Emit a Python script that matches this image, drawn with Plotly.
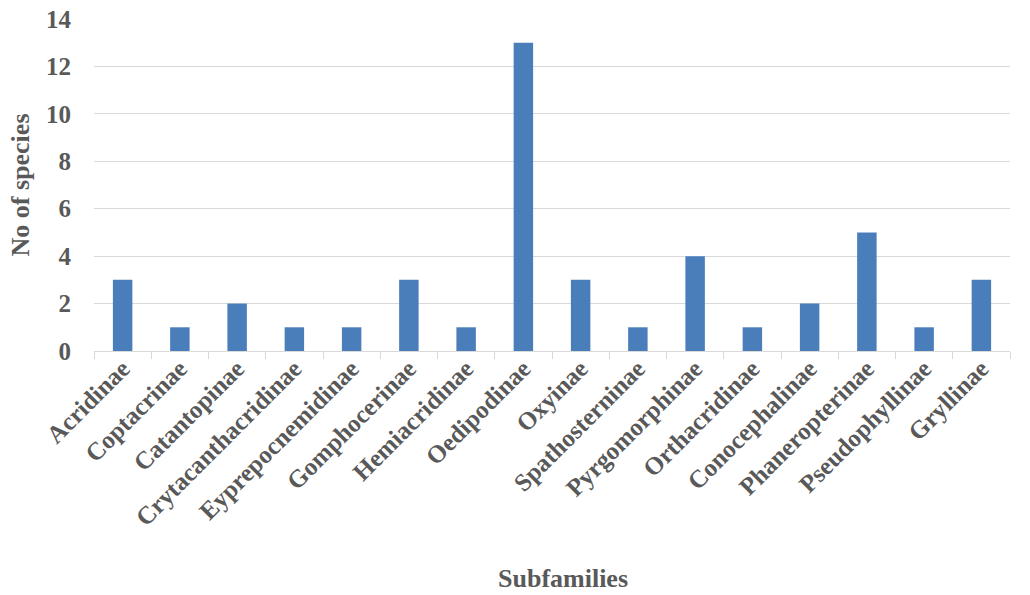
import plotly.graph_objects as go

subfamilies = [
    "Acridinae", "Coptacrinae", "Catantopinae", "Crytacanthacridinae",
    "Eyprepocnemidinae", "Gomphocerinae", "Hemiacridinae", "Oedipodinae",
    "Oxyinae", "Spathosterninae", "Pyrgomorphinae", "Orthacridinae",
    "Conocephalinae", "Phaneropterinae", "Pseudophyllinae", "Gryllinae",
]
species_counts = [3, 1, 2, 1, 1, 3, 1, 13, 3, 1, 4, 1, 2, 5, 1, 3]
y_ticks = [0, 2, 4, 6, 8, 10, 12, 14]

text_color = "#595959"
font_family = "Liberation Serif, Times New Roman, serif"

fig = go.Figure(
    go.Bar(
        x=subfamilies,
        y=species_counts,
        marker=dict(color="#4a7ebb", line=dict(width=0)),
        width=0.34,
    )
)

fig.update_layout(
    width=1030,
    height=595,
    margin=dict(l=94, r=20, t=19, b=244, autoexpand=False),
    plot_bgcolor="white",
    paper_bgcolor="white",
    showlegend=False,
    font=dict(family=font_family, color=text_color, size=24),
)

fig.update_xaxes(
    type="category",
    tickangle=-45,
    tickfont=dict(family=font_family, size=25, color=text_color, weight="bold"),
    showline=True,
    linecolor="#d9d9d9",
    linewidth=1,
    ticks="outside",
    tickson="boundaries",
    ticklen=7,
    tickcolor="#d9d9d9",
    ticklabelstandoff=-8,
    showgrid=False,
    automargin=False,
)

# x-axis title, centred on the whole chart width
fig.add_annotation(
    text="<b>Subfamilies</b>",
    xref="paper", yref="paper",
    x=(563 - 94) / 916, y=-(578 - 351) / 332,
    xanchor="center", yanchor="middle",
    showarrow=False,
    font=dict(family=font_family, size=26, color=text_color),
)

fig.update_yaxes(
    range=[0, 14],
    tickvals=y_ticks,
    tickfont=dict(family=font_family, size=25, color=text_color, weight="bold"),
    showgrid=True,
    gridcolor="#d9d9d9",
    gridwidth=1,
    zeroline=False,
    showline=False,
    ticks="",
    ticklabelstandoff=22,
    automargin=False,
    title=dict(
        text="<b>No of species</b>",
        font=dict(family=font_family, size=26, color=text_color),
        standoff=8,
    ),
)

fig.write_html("out.html")
